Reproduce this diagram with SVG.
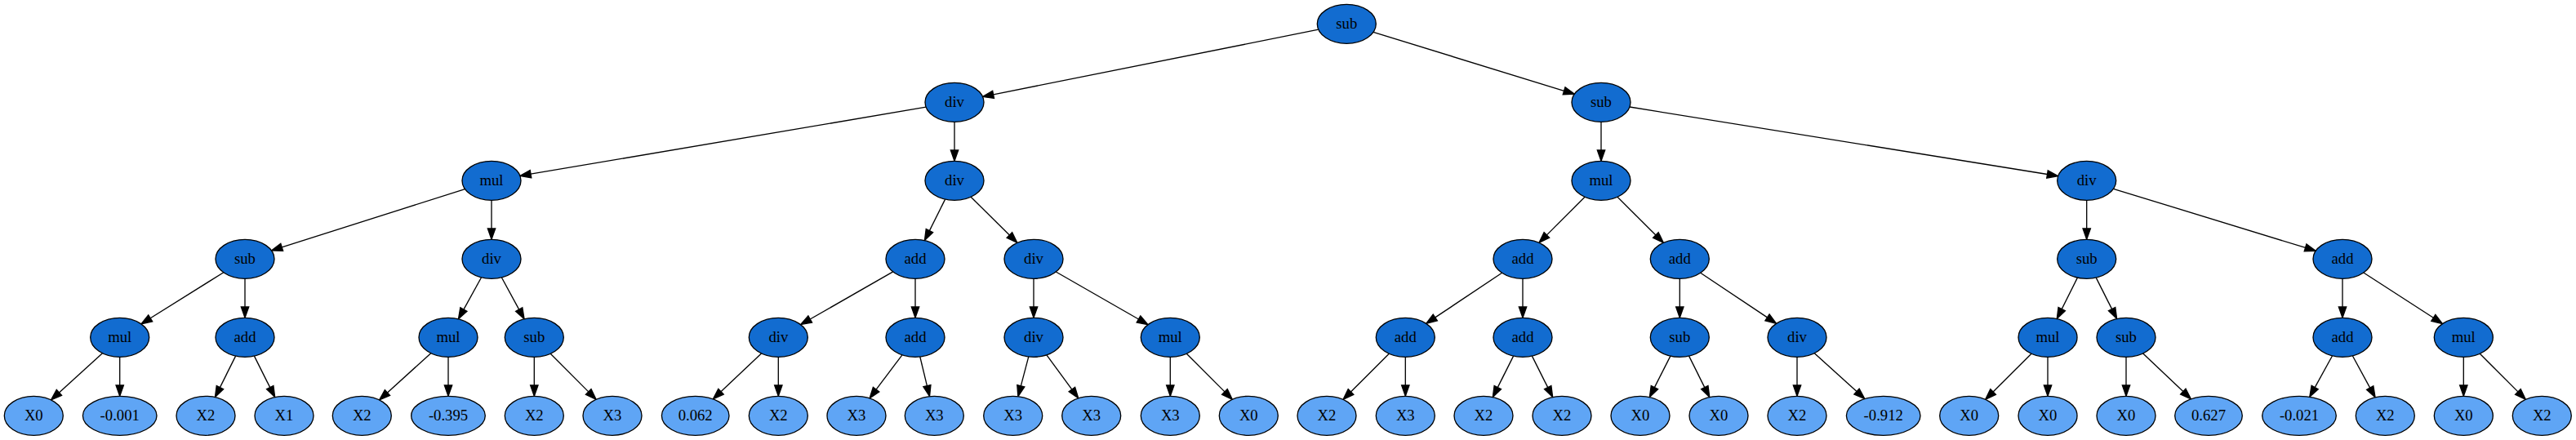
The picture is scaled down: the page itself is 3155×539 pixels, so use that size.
<svg xmlns="http://www.w3.org/2000/svg" width="3155" height="539" viewBox="0 0 3155 539">
<style>
.op ellipse{fill:#126cd0;stroke:#000;stroke-width:1.33}
.lf ellipse{fill:#5fa5f5;stroke:#000;stroke-width:1.33}
text{font-family:"Liberation Serif","Times New Roman",serif;font-size:18.67px;text-anchor:middle;fill:#000}
#edges line{stroke:#000;stroke-width:1.33;marker-end:url(#ah)}
</style>
<defs>
<marker id="ah" markerUnits="userSpaceOnUse" markerWidth="16" markerHeight="12" refX="0" refY="4.67" orient="auto" overflow="visible"><path d="M0,0 L13.33,4.67 L0,9.33 z" fill="#000" stroke="#000" stroke-width="1.33"/></marker>
</defs>
<rect width="3155" height="539" fill="#fff"/>
<g id="edges">
<line x1="1614.8" y1="36.2" x2="1216.6" y2="115.8"/>
<line x1="1682.0" y1="39.4" x2="1915.6" y2="111.3"/>
<line x1="1134.1" y1="131.2" x2="650.0" y2="213.2"/>
<line x1="1169" y1="149.3" x2="1169" y2="184"/>
<line x1="1961" y1="149.3" x2="1961" y2="184"/>
<line x1="1996.0" y1="131.0" x2="2507.5" y2="213.5"/>
<line x1="569.5" y1="231.6" x2="345.2" y2="302.9"/>
<line x1="602" y1="245.3" x2="602" y2="280"/>
<line x1="1157.6" y1="244.1" x2="1138.4" y2="282.6"/>
<line x1="1189.1" y1="241.2" x2="1236.4" y2="288.0"/>
<line x1="1941.0" y1="241.3" x2="1894.4" y2="287.9"/>
<line x1="1981.0" y1="241.3" x2="2027.9" y2="288.0"/>
<line x1="2555.7" y1="245.3" x2="2555.7" y2="280"/>
<line x1="2588.4" y1="231.3" x2="2823.6" y2="303.4"/>
<line x1="273.8" y1="333.7" x2="184.2" y2="389.8"/>
<line x1="300" y1="341.3" x2="300" y2="376"/>
<line x1="589.6" y1="339.8" x2="567.9" y2="379.1"/>
<line x1="614.3" y1="339.8" x2="635.7" y2="379.1"/>
<line x1="1093.7" y1="332.9" x2="992.2" y2="391.0"/>
<line x1="1121" y1="341.3" x2="1121" y2="376"/>
<line x1="1266" y1="341.3" x2="1266" y2="376"/>
<line x1="1293.3" y1="333.0" x2="1394.5" y2="391.0"/>
<line x1="1839.6" y1="334.3" x2="1757.8" y2="388.9"/>
<line x1="1865" y1="341.3" x2="1865" y2="376"/>
<line x1="2057.3" y1="341.3" x2="2057.3" y2="376"/>
<line x1="2082.7" y1="334.3" x2="2164.5" y2="388.9"/>
<line x1="2544.4" y1="340.1" x2="2525.2" y2="378.6"/>
<line x1="2567.2" y1="340.1" x2="2586.6" y2="378.6"/>
<line x1="2869" y1="341.3" x2="2869" y2="376"/>
<line x1="2894.8" y1="334.0" x2="2980.3" y2="389.3"/>
<line x1="125.4" y1="432.7" x2="72.4" y2="480.9"/>
<line x1="146.7" y1="437.3" x2="146.7" y2="472"/>
<line x1="288.6" y1="436.1" x2="269.4" y2="474.6"/>
<line x1="311.4" y1="436.1" x2="330.7" y2="474.6"/>
<line x1="527.7" y1="432.7" x2="474.5" y2="481.0"/>
<line x1="549" y1="437.3" x2="549" y2="472"/>
<line x1="654.3" y1="437.3" x2="654.3" y2="472"/>
<line x1="674.2" y1="433.3" x2="720.7" y2="479.9"/>
<line x1="932.5" y1="432.9" x2="883.0" y2="479.7"/>
<line x1="953.3" y1="437.3" x2="953.3" y2="472"/>
<line x1="1104.9" y1="434.8" x2="1073.1" y2="477.2"/>
<line x1="1126.8" y1="437.0" x2="1135.4" y2="472.7"/>
<line x1="1259.8" y1="436.9" x2="1250.3" y2="472.8"/>
<line x1="1281.9" y1="434.8" x2="1312.9" y2="477.1"/>
<line x1="1433.3" y1="437.3" x2="1433.3" y2="472"/>
<line x1="1453.3" y1="433.3" x2="1499.9" y2="479.9"/>
<line x1="1701.3" y1="433.3" x2="1654.5" y2="480.0"/>
<line x1="1721.3" y1="437.3" x2="1721.3" y2="472"/>
<line x1="1853.6" y1="436.1" x2="1834.3" y2="474.6"/>
<line x1="1876.4" y1="436.1" x2="1895.7" y2="474.6"/>
<line x1="2045.9" y1="436.1" x2="2026.4" y2="474.6"/>
<line x1="2068.6" y1="436.1" x2="2087.8" y2="474.6"/>
<line x1="2201" y1="437.3" x2="2201" y2="472"/>
<line x1="2222.3" y1="432.7" x2="2274.0" y2="479.6"/>
<line x1="2488.0" y1="433.3" x2="2441.1" y2="480.0"/>
<line x1="2508" y1="437.3" x2="2508" y2="472"/>
<line x1="2604" y1="437.3" x2="2604" y2="472"/>
<line x1="2624.7" y1="433.0" x2="2673.8" y2="479.6"/>
<line x1="2856.6" y1="435.8" x2="2835.2" y2="474.6"/>
<line x1="2881.3" y1="435.8" x2="2902.7" y2="475.1"/>
<line x1="3017.3" y1="437.3" x2="3017.3" y2="472"/>
<line x1="3037.3" y1="433.3" x2="3083.9" y2="479.9"/>
</g>
<g id="n0" class="op"><ellipse cx="1649.3" cy="29.3" rx="36" ry="24"/><text x="1649.3" y="35.3">sub</text></g>
<g id="n1" class="op"><ellipse cx="1169" cy="125.3" rx="36" ry="24"/><text x="1169" y="131.3">div</text></g>
<g id="n2" class="op"><ellipse cx="1961" cy="125.3" rx="36" ry="24"/><text x="1961" y="131.3">sub</text></g>
<g id="n3" class="op"><ellipse cx="602" cy="221.3" rx="36" ry="24"/><text x="602" y="227.3">mul</text></g>
<g id="n4" class="op"><ellipse cx="1169" cy="221.3" rx="36" ry="24"/><text x="1169" y="227.3">div</text></g>
<g id="n5" class="op"><ellipse cx="1961" cy="221.3" rx="36" ry="24"/><text x="1961" y="227.3">mul</text></g>
<g id="n6" class="op"><ellipse cx="2555.7" cy="221.3" rx="36" ry="24"/><text x="2555.7" y="227.3">div</text></g>
<g id="n7" class="op"><ellipse cx="300" cy="317.3" rx="36" ry="24"/><text x="300" y="323.3">sub</text></g>
<g id="n8" class="op"><ellipse cx="602" cy="317.3" rx="36" ry="24"/><text x="602" y="323.3">div</text></g>
<g id="n9" class="op"><ellipse cx="1121" cy="317.3" rx="36" ry="24"/><text x="1121" y="323.3">add</text></g>
<g id="n10" class="op"><ellipse cx="1266" cy="317.3" rx="36" ry="24"/><text x="1266" y="323.3">div</text></g>
<g id="n11" class="op"><ellipse cx="1865" cy="317.3" rx="36" ry="24"/><text x="1865" y="323.3">add</text></g>
<g id="n12" class="op"><ellipse cx="2057.3" cy="317.3" rx="36" ry="24"/><text x="2057.3" y="323.3">add</text></g>
<g id="n13" class="op"><ellipse cx="2555.7" cy="317.3" rx="36" ry="24"/><text x="2555.7" y="323.3">sub</text></g>
<g id="n14" class="op"><ellipse cx="2869" cy="317.3" rx="36" ry="24"/><text x="2869" y="323.3">add</text></g>
<g id="n15" class="op"><ellipse cx="146.7" cy="413.3" rx="36" ry="24"/><text x="146.7" y="419.3">mul</text></g>
<g id="n16" class="op"><ellipse cx="300" cy="413.3" rx="36" ry="24"/><text x="300" y="419.3">add</text></g>
<g id="n17" class="op"><ellipse cx="549" cy="413.3" rx="36" ry="24"/><text x="549" y="419.3">mul</text></g>
<g id="n18" class="op"><ellipse cx="654.3" cy="413.3" rx="36" ry="24"/><text x="654.3" y="419.3">sub</text></g>
<g id="n19" class="op"><ellipse cx="953.3" cy="413.3" rx="36" ry="24"/><text x="953.3" y="419.3">div</text></g>
<g id="n20" class="op"><ellipse cx="1121" cy="413.3" rx="36" ry="24"/><text x="1121" y="419.3">add</text></g>
<g id="n21" class="op"><ellipse cx="1266" cy="413.3" rx="36" ry="24"/><text x="1266" y="419.3">div</text></g>
<g id="n22" class="op"><ellipse cx="1433.3" cy="413.3" rx="36" ry="24"/><text x="1433.3" y="419.3">mul</text></g>
<g id="n23" class="op"><ellipse cx="1721.3" cy="413.3" rx="36" ry="24"/><text x="1721.3" y="419.3">add</text></g>
<g id="n24" class="op"><ellipse cx="1865" cy="413.3" rx="36" ry="24"/><text x="1865" y="419.3">add</text></g>
<g id="n25" class="op"><ellipse cx="2057.3" cy="413.3" rx="36" ry="24"/><text x="2057.3" y="419.3">sub</text></g>
<g id="n26" class="op"><ellipse cx="2201" cy="413.3" rx="36" ry="24"/><text x="2201" y="419.3">div</text></g>
<g id="n27" class="op"><ellipse cx="2508" cy="413.3" rx="36" ry="24"/><text x="2508" y="419.3">mul</text></g>
<g id="n28" class="op"><ellipse cx="2604" cy="413.3" rx="36" ry="24"/><text x="2604" y="419.3">sub</text></g>
<g id="n29" class="op"><ellipse cx="2869" cy="413.3" rx="36" ry="24"/><text x="2869" y="419.3">add</text></g>
<g id="n30" class="op"><ellipse cx="3017.3" cy="413.3" rx="36" ry="24"/><text x="3017.3" y="419.3">mul</text></g>
<g id="l0" class="lf"><ellipse cx="41.3" cy="509.3" rx="36" ry="24"/><text x="41.3" y="515.3">X0</text></g>
<g id="l1" class="lf"><ellipse cx="146.7" cy="509.3" rx="45.3" ry="24"/><text x="146.7" y="515.3">-0.001</text></g>
<g id="l2" class="lf"><ellipse cx="252" cy="509.3" rx="36" ry="24"/><text x="252" y="515.3">X2</text></g>
<g id="l3" class="lf"><ellipse cx="348" cy="509.3" rx="36" ry="24"/><text x="348" y="515.3">X1</text></g>
<g id="l4" class="lf"><ellipse cx="443.3" cy="509.3" rx="36" ry="24"/><text x="443.3" y="515.3">X2</text></g>
<g id="l5" class="lf"><ellipse cx="549" cy="509.3" rx="45.3" ry="24"/><text x="549" y="515.3">-0.395</text></g>
<g id="l6" class="lf"><ellipse cx="654.3" cy="509.3" rx="36" ry="24"/><text x="654.3" y="515.3">X2</text></g>
<g id="l7" class="lf"><ellipse cx="750" cy="509.3" rx="36" ry="24"/><text x="750" y="515.3">X3</text></g>
<g id="l8" class="lf"><ellipse cx="851.7" cy="509.3" rx="41.3" ry="24"/><text x="851.7" y="515.3">0.062</text></g>
<g id="l9" class="lf"><ellipse cx="953.3" cy="509.3" rx="36" ry="24"/><text x="953.3" y="515.3">X2</text></g>
<g id="l10" class="lf"><ellipse cx="1049" cy="509.3" rx="36" ry="24"/><text x="1049" y="515.3">X3</text></g>
<g id="l11" class="lf"><ellipse cx="1144.3" cy="509.3" rx="36" ry="24"/><text x="1144.3" y="515.3">X3</text></g>
<g id="l12" class="lf"><ellipse cx="1240.7" cy="509.3" rx="36" ry="24"/><text x="1240.7" y="515.3">X3</text></g>
<g id="l13" class="lf"><ellipse cx="1336.7" cy="509.3" rx="36" ry="24"/><text x="1336.7" y="515.3">X3</text></g>
<g id="l14" class="lf"><ellipse cx="1433.3" cy="509.3" rx="36" ry="24"/><text x="1433.3" y="515.3">X3</text></g>
<g id="l15" class="lf"><ellipse cx="1529.3" cy="509.3" rx="36" ry="24"/><text x="1529.3" y="515.3">X0</text></g>
<g id="l16" class="lf"><ellipse cx="1625" cy="509.3" rx="36" ry="24"/><text x="1625" y="515.3">X2</text></g>
<g id="l17" class="lf"><ellipse cx="1721.3" cy="509.3" rx="36" ry="24"/><text x="1721.3" y="515.3">X3</text></g>
<g id="l18" class="lf"><ellipse cx="1817" cy="509.3" rx="36" ry="24"/><text x="1817" y="515.3">X2</text></g>
<g id="l19" class="lf"><ellipse cx="1913" cy="509.3" rx="36" ry="24"/><text x="1913" y="515.3">X2</text></g>
<g id="l20" class="lf"><ellipse cx="2009" cy="509.3" rx="36" ry="24"/><text x="2009" y="515.3">X0</text></g>
<g id="l21" class="lf"><ellipse cx="2105" cy="509.3" rx="36" ry="24"/><text x="2105" y="515.3">X0</text></g>
<g id="l22" class="lf"><ellipse cx="2201" cy="509.3" rx="36" ry="24"/><text x="2201" y="515.3">X2</text></g>
<g id="l23" class="lf"><ellipse cx="2306.7" cy="509.3" rx="45.3" ry="24"/><text x="2306.7" y="515.3">-0.912</text></g>
<g id="l24" class="lf"><ellipse cx="2411.7" cy="509.3" rx="36" ry="24"/><text x="2411.7" y="515.3">X0</text></g>
<g id="l25" class="lf"><ellipse cx="2508" cy="509.3" rx="36" ry="24"/><text x="2508" y="515.3">X0</text></g>
<g id="l26" class="lf"><ellipse cx="2604" cy="509.3" rx="36" ry="24"/><text x="2604" y="515.3">X0</text></g>
<g id="l27" class="lf"><ellipse cx="2705" cy="509.3" rx="41.3" ry="24"/><text x="2705" y="515.3">0.627</text></g>
<g id="l28" class="lf"><ellipse cx="2816" cy="509.3" rx="45.3" ry="24"/><text x="2816" y="515.3">-0.021</text></g>
<g id="l29" class="lf"><ellipse cx="2921.3" cy="509.3" rx="36" ry="24"/><text x="2921.3" y="515.3">X2</text></g>
<g id="l30" class="lf"><ellipse cx="3017.3" cy="509.3" rx="36" ry="24"/><text x="3017.3" y="515.3">X0</text></g>
<g id="l31" class="lf"><ellipse cx="3113.3" cy="509.3" rx="36" ry="24"/><text x="3113.3" y="515.3">X2</text></g>
</svg>
